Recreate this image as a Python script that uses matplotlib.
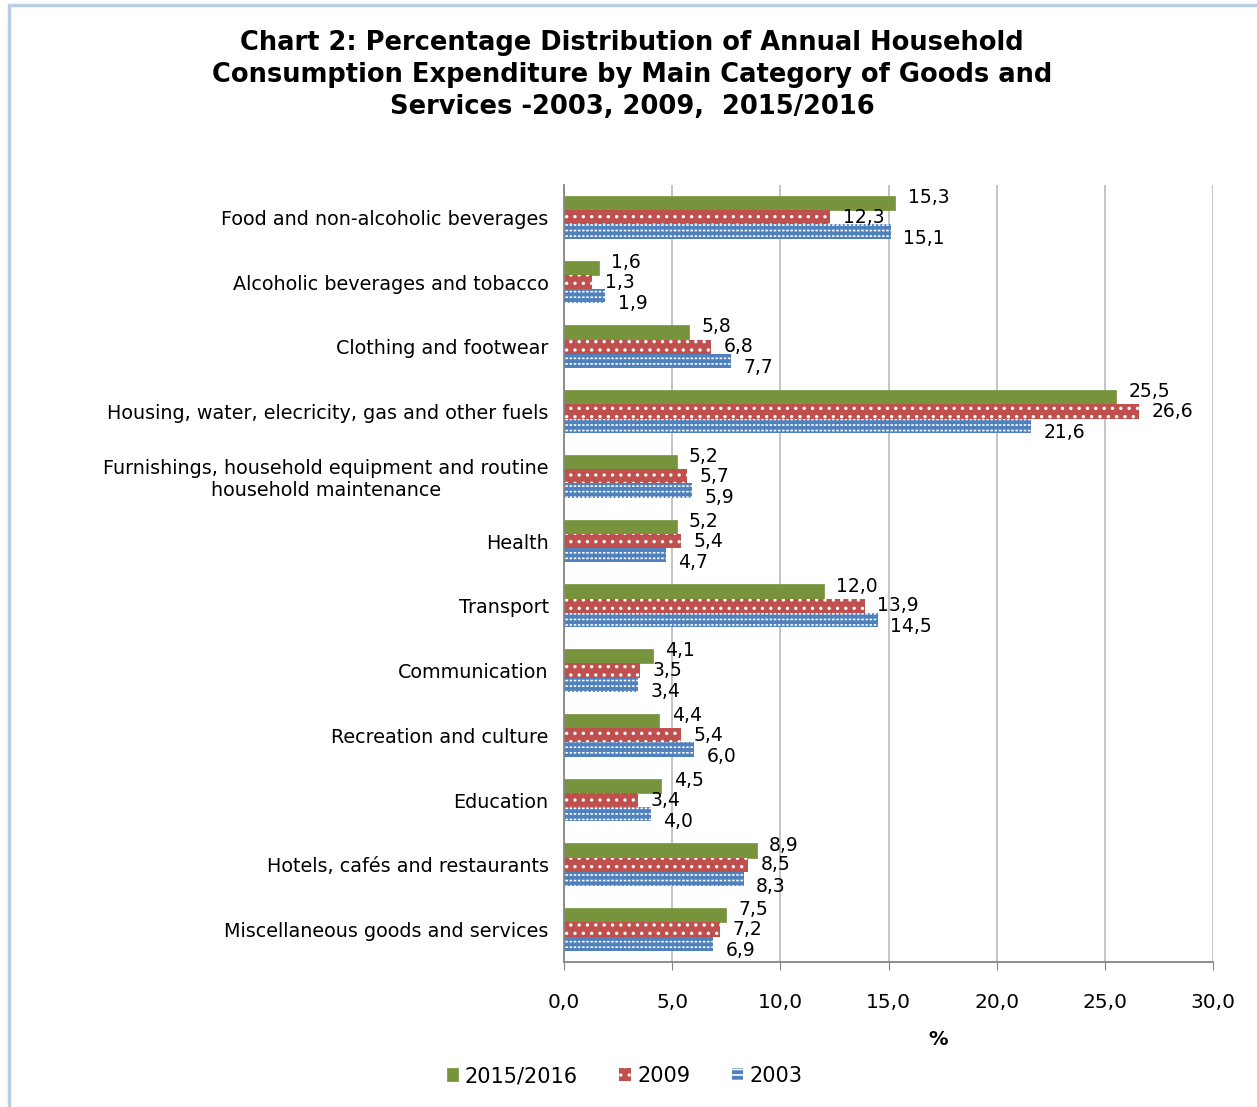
import matplotlib.pyplot as plt
import numpy as np
from matplotlib.patches import Rectangle

# Categories, top to bottom as in the chart
categories = [
    "Food and non-alcoholic beverages",
    "Alcoholic beverages and tobacco",
    "Clothing and footwear",
    "Housing, water, elecricity, gas and other fuels",
    "Furnishings, household equipment and routine\nhousehold maintenance",
    "Health",
    "Transport",
    "Communication",
    "Recreation and culture",
    "Education",
    "Hotels, cafés and restaurants",
    "Miscellaneous goods and services",
]
y2015 = [15.3, 1.6, 5.8, 25.5, 5.2, 5.2, 12.0, 4.1, 4.4, 4.5, 8.9, 7.5]
y2009 = [12.3, 1.3, 6.8, 26.6, 5.7, 5.4, 13.9, 3.5, 5.4, 3.4, 8.5, 7.2]
y2003 = [15.1, 1.9, 7.7, 21.6, 5.9, 4.7, 14.5, 3.4, 6.0, 4.0, 8.3, 6.9]
series_labels = ["2015/2016", "2009", "2003"]
x_ticks = [0, 5, 10, 15, 20, 25, 30]

plt.rcParams['font.family'] = ['DejaVu Sans']
plt.rcParams['hatch.linewidth'] = 1.2

fig = plt.figure(figsize=(12.57, 11.07), dpi=100)
ax = fig.add_axes([0.4487, 0.131, 0.5163, 0.702])

# chart area border (light blue, Excel style)
fig.patches.append(Rectangle((0.0075, -0.01), 1.1, 1.0055, transform=fig.transFigure,
                             fill=False, edgecolor='#b9cde5', linewidth=2.5))

n = len(categories)
pos = np.arange(n)
h = 0.22
green, red, blue = '#77933C', '#C0504D', '#4F81BD'

# 2015/2016 - solid green
ax.barh(pos - h, y2015, height=h, color=green, edgecolor=green, linewidth=0.5,
        label=series_labels[0])
# 2009 - red with small white dots
ax.barh(pos, y2009, height=h, color=red, edgecolor='white', hatch='..', linewidth=0,
        label=series_labels[1])
# 2003 - blue with white dashes (white lines broken by blue verticals)
ax.barh(pos + h, y2003, height=h, color=blue, edgecolor='white', hatch='---', linewidth=0,
        label=series_labels[2])
ax.barh(pos + h, y2003, height=h, fill=False, edgecolor=blue, hatch='||||', linewidth=0)

for k, vals in enumerate([y2015, y2009, y2003]):
    dy = [4, 0, -5][k]
    for v, y in zip(vals, pos + (k - 1) * h):
        ax.annotate(f"{v:.1f}".replace('.', ','), (v, y), xytext=(9, dy),
                    textcoords='offset points', ha='left', va='center', fontsize=13.5,
                    color='black')

ax.set_ylim(n - 0.5, -0.5)
ax.set_xlim(0, 30)
ax.set_yticks(pos)
ax.set_yticklabels(categories, fontsize=13.8, ha='right', multialignment='center')
ax.tick_params(axis='y', length=0, pad=11)
ax.set_xticks(x_ticks)
ax.set_xticklabels([f"{t:.1f}".replace('.', ',') for t in x_ticks], fontsize=14.5)
ax.tick_params(axis='x', length=6, color='#868686', pad=16)
ax.grid(axis='x', color='#bfbfbf', linewidth=1.3)
ax.set_axisbelow(True)
for s in ['top', 'right']:
    ax.spines[s].set_visible(False)
ax.spines['left'].set_color('#868686')
ax.spines['bottom'].set_color('#868686')
ax.spines['left'].set_linewidth(1.3)
ax.spines['bottom'].set_linewidth(1.3)
ax.set_xlabel('%', fontsize=14, fontweight='bold')
ax.xaxis.set_label_coords(0.576, -0.088)

fig.text(0.503, 0.973, "Chart 2: Percentage Distribution of Annual Household\n"
         "Consumption Expenditure by Main Category of Goods and\n"
         "Services -2003, 2009,  2015/2016",
         ha='center', va='top', fontsize=18.5, fontweight='bold', linespacing=1.3)

leg = fig.legend(loc='center', bbox_to_anchor=(0.497, 0.028), ncol=3, frameon=False,
                 fontsize=15, handlelength=0.55, handleheight=0.55, handletextpad=0.3,
                 columnspacing=2.0)

fig.savefig('out.png', dpi=100)
